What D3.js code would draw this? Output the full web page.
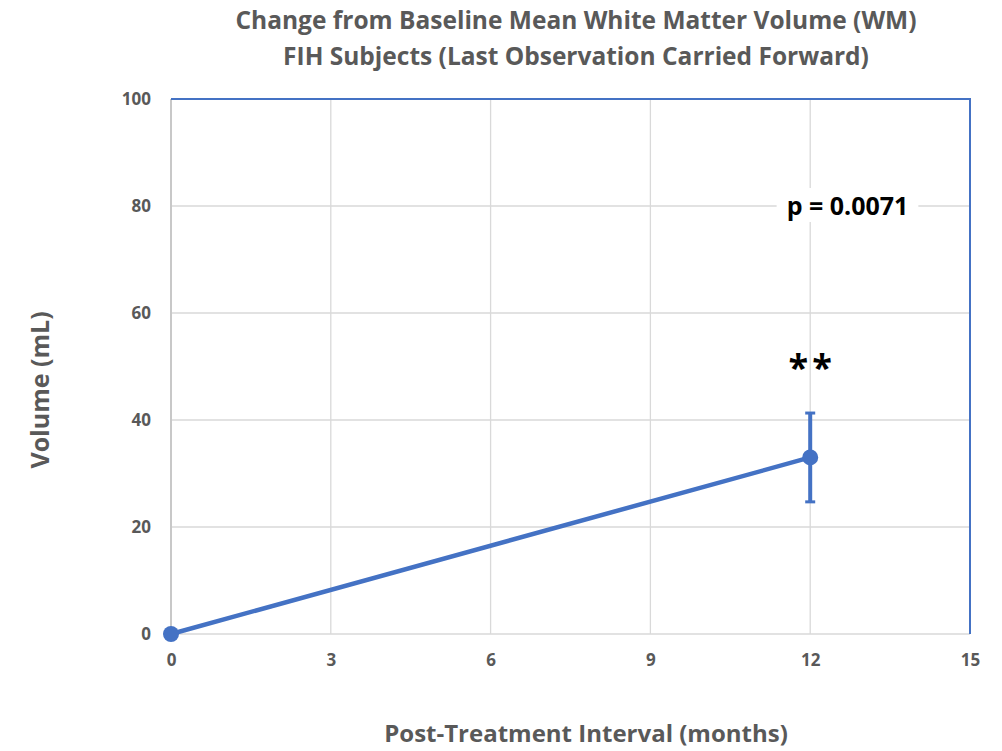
<!DOCTYPE html>
<html>
<head>
<meta charset="utf-8">
<script src="https://cdn.jsdelivr.net/npm/d3@7"></script>
<style>
  body { margin: 0; background: #fff; }
  #chart text { font-family: "Open Sans", "Noto Sans", sans-serif; }
</style>
</head>
<body>
<div id="chart"></div>
<script>
var titleLines = ["Change from Baseline Mean White Matter Volume (WM)", "FIH Subjects (Last Observation Carried Forward)"];
var months = [0, 12];
var volume = [0, 33];
var errors = [0, 8.3];
var xTicks = [0, 3, 6, 9, 12, 15];
var yTicks = [0, 20, 40, 60, 80, 100];
var pLabel = "p = 0.0071";
var sigLabel = "**";

render();

function render() {
  var W = 1002, H = 751;
  var margin = { top: 99, right: 32, bottom: 117, left: 171 };
  var width = W - margin.left - margin.right;
  var height = H - margin.top - margin.bottom;
  var blue = "#4472c4";
  var grey = "#595959";

  var svg = d3.select("#chart").append("svg")
    .attr("width", W)
    .attr("height", H);

  var g = svg.append("g")
    .attr("transform", "translate(" + margin.left + "," + margin.top + ")");

  var xScale = d3.scaleLinear().domain([0, 15]).range([0, width]);
  var yScale = d3.scaleLinear().domain([0, 100]).range([height, 0]);

  // gridlines
  g.selectAll(".hgrid").data(yTicks).enter().append("line")
    .attr("x1", 0).attr("x2", width)
    .attr("y1", function (d) { return yScale(d); })
    .attr("y2", function (d) { return yScale(d); })
    .attr("stroke", "#d9d9d9").attr("stroke-width", 1.3);
  g.selectAll(".vgrid").data(xTicks).enter().append("line")
    .attr("x1", function (d) { return xScale(d); })
    .attr("x2", function (d) { return xScale(d); })
    .attr("y1", 0).attr("y2", height)
    .attr("stroke", function (d) { return d === 0 ? "#c8c8c8" : "#d9d9d9"; })
    .attr("stroke-width", function (d) { return d === 0 ? 2 : 1.3; });

  // border: top and right in blue
  g.append("path")
    .attr("d", "M0,0H" + width + "V" + height)
    .attr("fill", "none").attr("stroke", blue).attr("stroke-width", 2);

  // p-value label with white box over the gridline
  var pBox = g.append("rect").attr("fill", "#fff");
  var pText = g.append("text")
    .attr("x", xScale(12.7))
    .attr("y", yScale(80) + 9)
    .attr("text-anchor", "middle")
    .attr("fill", "#000")
    .style("font-size", "25px")
    .style("font-weight", "bold")
    .text(pLabel);
  var bb = pText.node().getBBox();
  pBox.attr("x", bb.x - 10).attr("y", bb.y)
    .attr("width", bb.width + 20).attr("height", bb.height);

  // axes tick labels
  var xAxis = g.append("g")
    .attr("transform", "translate(0," + height + ")")
    .call(d3.axisBottom(xScale).tickValues(xTicks).tickSize(0).tickPadding(20));
  var yAxis = g.append("g")
    .call(d3.axisLeft(yScale).tickValues(yTicks).tickSize(0).tickPadding(20));
  [xAxis, yAxis].forEach(function (a) {
    a.select(".domain").remove();
    a.selectAll("text")
      .attr("fill", grey)
      .style("font-size", "17px")
      .style("font-weight", "bold");
  });

  // error bars
  var pts = months.map(function (m, i) { return { x: m, y: volume[i], e: errors[i] }; });
  var eb = g.selectAll(".err").data(pts.filter(function (d) { return d.e > 0; })).enter().append("g");
  eb.append("line")
    .attr("x1", function (d) { return xScale(d.x); })
    .attr("x2", function (d) { return xScale(d.x); })
    .attr("y1", function (d) { return yScale(d.y + d.e); })
    .attr("y2", function (d) { return yScale(d.y - d.e); })
    .attr("stroke", blue).attr("stroke-width", 4);
  [1, -1].forEach(function (s) {
    eb.append("line")
      .attr("x1", function (d) { return xScale(d.x) - 5; })
      .attr("x2", function (d) { return xScale(d.x) + 5; })
      .attr("y1", function (d) { return yScale(d.y + s * d.e); })
      .attr("y2", function (d) { return yScale(d.y + s * d.e); })
      .attr("stroke", blue).attr("stroke-width", 3);
  });

  var line = d3.line()
    .x(function (d) { return xScale(d.x); })
    .y(function (d) { return yScale(d.y); });

  g.append("path")
    .datum(pts)
    .attr("fill", "none")
    .attr("stroke", blue)
    .attr("stroke-width", 4.5)
    .attr("stroke-linecap", "round")
    .attr("d", line);

  g.selectAll(".pt").data(pts).enter().append("circle")
    .attr("cx", function (d) { return xScale(d.x); })
    .attr("cy", function (d) { return yScale(d.y); })
    .attr("r", 8)
    .attr("fill", blue);

  g.append("text")
    .attr("x", xScale(12) + 2)
    .attr("y", yScale(49.5) + 11)
    .attr("text-anchor", "middle")
    .attr("fill", "#000")
    .style("font-size", "36px")
    .style("font-weight", "bold")
    .style("letter-spacing", "4px")
    .text(sigLabel);

  // title
  svg.selectAll(".title").data(titleLines).enter().append("text")
    .attr("x", 576)
    .attr("y", function (d, i) { return 29 + i * 36; })
    .attr("text-anchor", "middle")
    .attr("fill", grey)
    .style("font-size", "24.5px")
    .style("font-weight", "bold")
    .text(function (d) { return d; });

  // axis titles
  svg.append("text")
    .attr("x", 586)
    .attr("y", 742)
    .attr("text-anchor", "middle")
    .attr("fill", grey)
    .style("font-size", "24px")
    .style("font-weight", "bold")
    .text("Post-Treatment Interval (months)");
  svg.append("text")
    .attr("transform", "translate(49,390) rotate(-90)")
    .attr("text-anchor", "middle")
    .attr("fill", grey)
    .style("font-size", "25px")
    .style("font-weight", "bold")
    .text("Volume (mL)");
}
</script>
</body>
</html>
